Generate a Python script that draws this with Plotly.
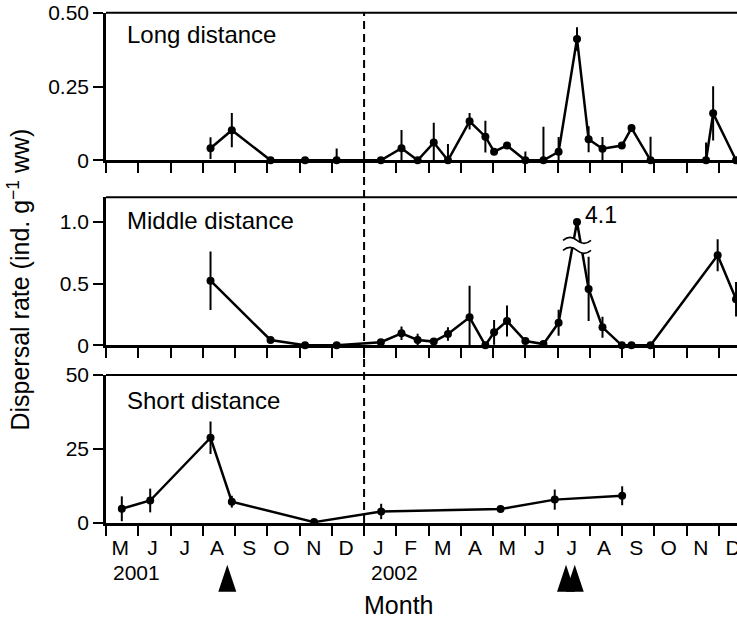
import plotly.graph_objects as go

# ---------------- data ----------------
MONTH_LABELS = ["M", "J", "J", "A", "S", "O", "N", "D",
                "J", "F", "M", "A", "M", "J", "J", "A", "S", "O", "N", "D"]
YEAR_LABELS = ["2001", "2002"]
YEAR_START_MONTH = [0, 8]          # month index (0 = May 2001)
PANEL_TITLES = ["Long distance", "Middle distance", "Short distance"]

# x values: months since 1 May 2001
LONG_X = [3.24, 3.9, 5.1, 6.17, 7.15, 8.52, 9.16, 9.66, 10.16, 10.6, 11.27, 11.76, 12.03,
          12.43, 13.0, 13.56, 14.03, 14.6, 14.96, 15.39, 15.99, 16.29, 16.88, 18.6, 18.82, 19.53]
LONG_RATE = [0.041, 0.102, 0, 0, 0, 0, 0.041, 0, 0.06, 0, 0.132, 0.08, 0.029,
             0.05, 0, 0, 0.029, 0.411, 0.071, 0.039, 0.05, 0.109, 0, 0, 0.159, 0]
LONG_ERR = [0.037, 0.058, 0, 0, 0.04, 0, 0.062, 0, 0.067, 0.055, 0.028, 0.054, 0,
            0, 0.03, 0.114, 0.05, 0.04, 0.044, 0.04, 0, 0, 0.08, 0.06, 0.092, 0]

MID_X = [3.24, 5.1, 6.17, 7.15, 8.52, 9.16, 9.66, 10.16, 10.6, 11.27, 11.76, 12.03,
         12.43, 13.0, 13.56, 14.03, 14.6, 14.96, 15.39, 15.99, 16.29, 16.88, 18.96, 19.53]
MID_RATE = [0.524, 0.043, 0, 0, 0.025, 0.097, 0.043, 0.03, 0.092, 0.227, 0, 0.105,
            0.197, 0.035, 0.01, 0.183, 4.1, 0.457, 0.146, 0, 0, 0, 0.73, 0.373]
MID_ERR = [0.237, 0, 0, 0, 0, 0.055, 0.05, 0, 0.055, 0.255, 0, 0.1,
           0.125, 0, 0, 0.105, 0, 0.26, 0.085, 0, 0, 0, 0.13, 0.14]

SHORT_X = [0.49, 1.37, 3.24, 3.9, 6.45, 8.53, 12.23, 13.91, 16.0]
SHORT_RATE = [4.8, 7.6, 28.8, 7.2, 0.3, 3.9, 4.7, 7.9, 9.2]
SHORT_ERR = [4.2, 4.0, 5.5, 2.0, 0, 2.6, 1.0, 3.4, 3.2]

ARROW_MONTHS = [3.76, 14.26, 14.53]
DIVIDER_MONTH = 8            # 1 Jan 2002
MID_BREAK_LEVEL = 1.0        # values above are drawn at the axis break
MID_BREAK_MARK = 0.81

Y_TICKS = [[0, 0.25, 0.5], [0, 0.5, 1.0], [0, 25, 50]]
Y_TICKTEXT = [["0", "0.25", "0.50"], ["0", "0.5", "1.0"], ["0", "25", "50"]]
Y_RANGES = [[0, 0.5], [0, 1.2], [0, 50]]

# ---------------- layout constants ----------------
W, H = 737, 618
FONT = "Liberation Sans, Arial, Helvetica, sans-serif"
LEFT = 106.4
MONTH_PX = 32.24
X_RANGE = [0, (W - LEFT) / MONTH_PX]
# panel pixel extents (top, bottom)
PANEL_PX = [(12.7, 160.3), (197.3, 345.3), (375.0, 523.0)]
DOMAINS = [[(H - b) / H, (H - t) / H] for t, b in PANEL_PX]


def px_x(px):
    """figure pixel -> paper x (paper spans the plot area)"""
    return (px - LEFT) / (W - LEFT)


def px_y(py):
    return (H - py) / H


fig = go.Figure()

mid_plot = [min(v, MID_BREAK_LEVEL) for v in MID_RATE]
series = [(LONG_X, LONG_RATE, LONG_ERR), (MID_X, mid_plot, MID_ERR), (SHORT_X, SHORT_RATE, SHORT_ERR)]
for i, (xs, ys, es) in enumerate(series):
    sfx = "" if i == 0 else str(i + 1)
    fig.add_trace(go.Scatter(
        x=xs, y=ys, mode="lines+markers",
        line=dict(color="black", width=2.5),
        marker=dict(color="black", size=8),
        error_y=dict(type="data", array=es, visible=True, thickness=2, width=0, color="black"),
        cliponaxis=False, showlegend=False, hoverinfo="skip",
        xaxis="x" + sfx, yaxis="y" + sfx))

month_ticks = list(range(len(MONTH_LABELS)))
label_pos = [m + 0.44 for m in month_ticks]

layout = dict(
    width=W, height=H, margin=dict(l=LEFT, r=0, t=0, b=0, autoexpand=False),
    paper_bgcolor="white", plot_bgcolor="white",
    font=dict(family=FONT, color="black", size=21),
    showlegend=False,
)
for i in range(3):
    sfx = "" if i == 0 else str(i + 1)
    xa = dict(domain=[0, 1], range=X_RANGE, anchor="y" + sfx, automargin=False,
              showline=True, linecolor="black", linewidth=2.5,
              showgrid=False, zeroline=False, fixedrange=True)
    if i < 2:
        xa.update(tickmode="array", tickvals=month_ticks, ticks="outside", ticklen=10,
                  tickwidth=2, tickcolor="black", showticklabels=False)
    else:
        xa.update(tickmode="array", tickvals=label_pos, ticktext=MONTH_LABELS,
                  ticks="outside", ticklen=4, tickcolor="rgba(0,0,0,0)",
                  tickfont=dict(size=21), ticklabeloverflow="allow",
                  minor=dict(tickmode="array", tickvals=month_ticks, ticks="outside",
                             ticklen=10, tickwidth=2, tickcolor="black", showgrid=False))
    ya = dict(domain=DOMAINS[i], range=Y_RANGES[i], anchor="x" + sfx, automargin=False,
              showline=True, linecolor="black", linewidth=2.5,
              tickmode="array", tickvals=Y_TICKS[i], ticktext=Y_TICKTEXT[i],
              ticks="outside", ticklen=10, tickwidth=2, tickcolor="black",
              tickfont=dict(size=21), showgrid=False, zeroline=False, fixedrange=True)
    layout["xaxis" + sfx] = xa
    layout["yaxis" + sfx] = ya
fig.update_layout(**layout)

shapes = []
# top frame line of each panel
for i in range(3):
    sfx = "" if i == 0 else str(i + 1)
    shapes.append(dict(type="line", xref="x" + sfx + " domain", yref="y" + sfx + " domain",
                       x0=0, x1=1, y0=1, y1=1, line=dict(color="black", width=2)))
# dashed divider
shapes.append(dict(type="line", xref="x3", yref="paper", x0=DIVIDER_MONTH, x1=DIVIDER_MONTH,
                   y0=DOMAINS[2][0], y1=DOMAINS[0][1],
                   line=dict(color="black", width=2, dash="8px,5px")))
# arrowheads below the month axis
for m in ARROW_MONTHS:
    shapes.append(dict(type="path", xref="x3", xsizemode="pixel", xanchor=m,
                       yref="paper", ysizemode="pixel", yanchor=px_y(591.7),
                       path="M -9,0 L 9,0 L 0,27 Z", fillcolor="black",
                       line=dict(width=0), layer="above"))
# axis break symbol in middle panel
peak_x = MID_X[MID_RATE.index(max(MID_RATE))]
shapes.append(dict(type="path", xref="x2", xsizemode="pixel", xanchor=peak_x,
                   yref="y2", ysizemode="pixel", yanchor=MID_BREAK_MARK,
                   path="M -14,5 Q -7,11 0,5 T 14,5 L 14,-5 Q 7,-11 0,-5 T -14,-5 Z",
                   fillcolor="white", line=dict(width=0), layer="above"))
for off in (5, -5):
    shapes.append(dict(type="path", xref="x2", xsizemode="pixel", xanchor=peak_x,
                       yref="y2", ysizemode="pixel", yanchor=MID_BREAK_MARK,
                       path=f"M -14,{off} Q -7,{off + 6} 0,{off} T 14,{off}",
                       line=dict(color="black", width=1.5), layer="above"))
fig.update_layout(shapes=shapes)

ann = []
title_y = [34, 220, 400]
for t, yc in zip(PANEL_TITLES, title_y):
    ann.append(dict(text=t, xref="paper", yref="paper", x=px_x(125), y=px_y(yc),
                    xanchor="left", yanchor="middle", showarrow=False, font=dict(size=24)))
ann.append(dict(text=f"{max(MID_RATE)}", xref="x2", yref="y2", x=peak_x, y=MID_BREAK_LEVEL,
                xanchor="left", yanchor="middle", xshift=6, yshift=7, showarrow=False,
                font=dict(size=23)))
for lab, m in zip(YEAR_LABELS, YEAR_START_MONTH):
    ann.append(dict(text=lab, xref="x3", yref="paper", x=m + 0.16, y=px_y(572.5),
                    xanchor="left", yanchor="middle", showarrow=False, font=dict(size=21)))
ann.append(dict(text="Month", xref="paper", yref="paper", x=px_x(399), y=px_y(605),
                xanchor="center", yanchor="middle", showarrow=False, font=dict(size=25)))
ann.append(dict(text="Dispersal rate (ind. g<sup>\u22121</sup> ww)", xref="paper", yref="paper",
                x=px_x(19), y=px_y(280), xanchor="center", yanchor="middle",
                textangle=-90, showarrow=False, font=dict(size=25)))
fig.update_layout(annotations=ann)

fig.write_html("out.html", config={"displayModeBar": False},
               post_script="document.body.style.margin='0';document.body.style.overflow='hidden';")
